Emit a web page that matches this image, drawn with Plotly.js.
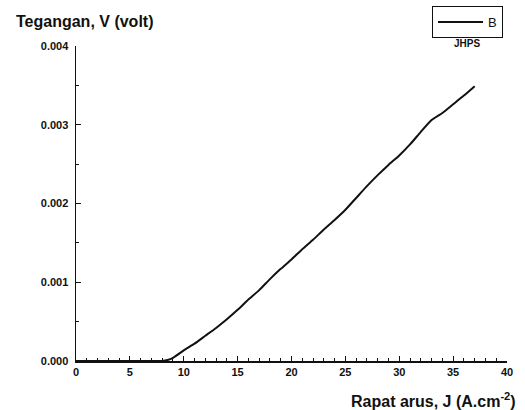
<!DOCTYPE html>
<html>
<head>
<meta charset="utf-8">
<script src="https://cdn.plot.ly/plotly-3.0.1.min.js"></script>
<style>
  html, body { margin: 0; padding: 0; background: #fff; }
  #chart { width: 525px; height: 410px; }
</style>
</head>
<body>
<div id="chart"></div>
<script>
// Current density J (A.cm^-2) against voltage V (volt), series B
const currentDensity = [0, 1, 2, 3, 4, 5, 6, 7, 8, 8.5, 9, 10, 11, 12, 13, 14, 15, 16, 17, 18, 19, 20,
  21, 22, 23, 24, 25, 26, 27, 28, 29, 30, 31, 32, 33, 34, 35, 36, 37];
const voltage = [0, 0, 0, 0, 0, 0, 0, 0, 0, 0.000012, 0.00004, 0.000135, 0.00022, 0.00032, 0.00042, 0.00053,
  0.00065, 0.00078, 0.00090, 0.00104, 0.00117, 0.00129, 0.00142, 0.00154, 0.00167, 0.00179, 0.00192,
  0.00207, 0.00222, 0.00236, 0.00249, 0.00261, 0.00275, 0.00291, 0.00306, 0.00315, 0.00326, 0.00337, 0.00349];
const seriesName = 'B';
const legendNote = 'JHPS';
const xTitle = 'Rapat arus, J (A.cm<sup>-2</sup>)';
const yTitle = 'Tegangan, V (volt)';
const xTicks = [0, 5, 10, 15, 20, 25, 30, 35, 40];
const yTicks = [0, 0.001, 0.002, 0.003, 0.004];

const FONT = 'Liberation Sans, Arial, sans-serif';

const trace = {
  x: currentDensity,
  y: voltage,
  type: 'scatter',
  mode: 'lines',
  name: seriesName,
  line: { color: '#111', width: 2, shape: 'spline', smoothing: 0.5 }
};

const axisCommon = {
  showgrid: false,
  zeroline: false,
  showline: true,
  linecolor: '#111',
  linewidth: 1.5,
  ticks: 'inside',
  ticklen: 5,
  tickwidth: 1.2,
  tickcolor: '#111',
  tickfont: { family: FONT, size: 11, color: '#111', weight: 'bold' },
  fixedrange: true
};

const layout = {
  width: 525,
  height: 410,
  margin: { l: 76, r: 18, t: 46, b: 49, autoexpand: false },
  paper_bgcolor: '#fff',
  plot_bgcolor: '#fff',
  font: { family: FONT, color: '#111' },
  showlegend: true,
  legend: {
    x: 0.826, y: 1.127, xanchor: 'left', yanchor: 'top',
    bordercolor: '#111', borderwidth: 1, bgcolor: '#fff',
    font: { family: FONT, size: 13, color: '#111' },
    entrywidth: 62,
    itemwidth: 45
  },
  xaxis: Object.assign({}, axisCommon, {
    range: [0, 40],
    tickvals: xTicks,
    ticktext: xTicks.map(String),
    minor: { dtick: 1, ticks: 'inside', ticklen: 3, tickcolor: '#111', tickwidth: 1 }
  }),
  yaxis: Object.assign({}, axisCommon, {
    range: [0, 0.004],
    tickvals: yTicks,
    ticktext: yTicks.map(v => v.toFixed(3)),
    ticklabelstandoff: 4,
    minor: { dtick: 0.0005, ticks: 'inside', ticklen: 3, tickcolor: '#111', tickwidth: 1 }
  }),
  annotations: [
    {
      text: yTitle, xref: 'paper', yref: 'paper', x: -0.144, y: 1.079,
      xanchor: 'left', yanchor: 'middle', showarrow: false,
      font: { family: FONT, size: 16, color: '#111', weight: 'bold' }
    },
    {
      text: xTitle, xref: 'paper', yref: 'paper', x: 1.026, y: -0.124,
      xanchor: 'right', yanchor: 'middle', showarrow: false,
      font: { family: FONT, size: 16, color: '#111', weight: 'bold' }
    },
    {
      text: legendNote, xref: 'paper', yref: 'paper', x: 0.907, y: 1.0095,
      xanchor: 'center', yanchor: 'middle', showarrow: false,
      font: { family: FONT, size: 10, color: '#111', weight: 'bold' }
    }
  ]
};

Plotly.newPlot('chart', [trace], layout, { displayModeBar: false, staticPlot: true });
</script>
</body>
</html>
